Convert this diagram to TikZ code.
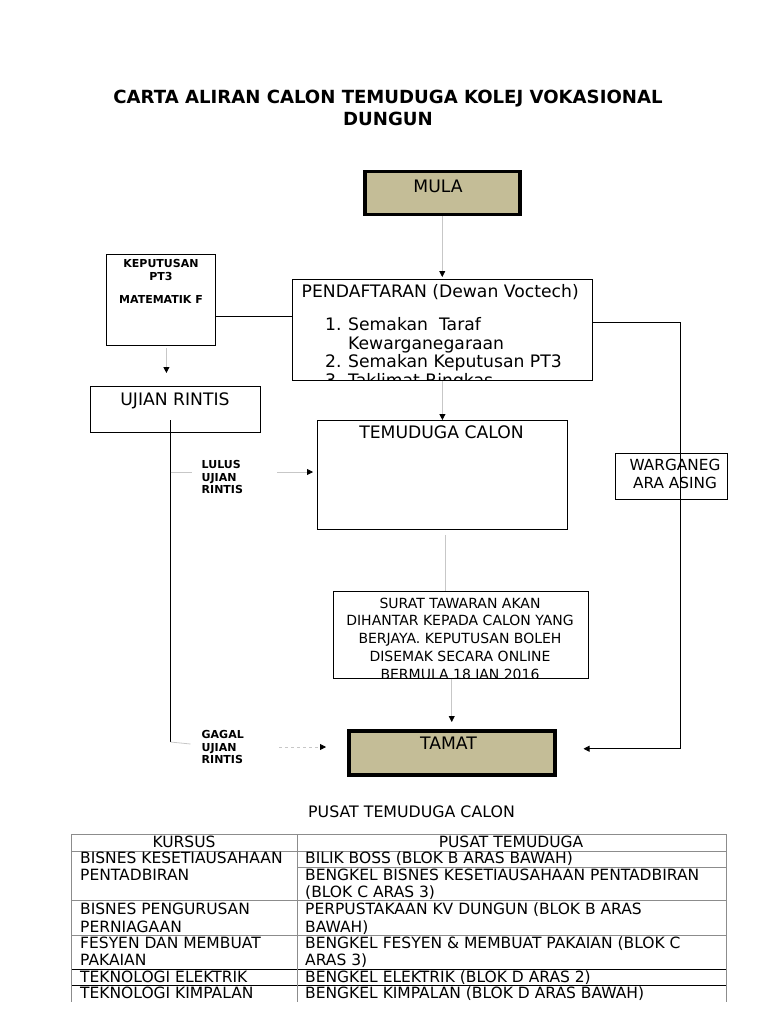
\documentclass[tikz,border=0pt]{standalone}
\usepackage{fontspec}
\setmainfont{DejaVu Sans}
\usetikzlibrary{arrows.meta}
\definecolor{tan}{RGB}{196,189,151}
\definecolor{lightgray}{rgb}{0.78,0.78,0.78}
\definecolor{tabgray}{rgb}{0.55,0.55,0.55}

\begin{document}
\begin{tikzpicture}[x=1pt, y=-1pt, inner sep=0pt,
	box/.style = {draw, anchor=north west, line width=0.8pt, fill=white},
	endbox/.style = {draw, anchor=north west, line width=3.5pt, fill=tan},
	boxtext/.style = {font=\fontsize{17.2}{19}\selectfont, text height=12.5pt, text depth=0pt},
	wargtext/.style = {font=\fontsize{15.3}{17}\selectfont, text height=11.2pt, text depth=0pt},
	surattext/.style = {font=\fontsize{14}{16}\selectfont, text height=10.2pt, text depth=0pt},
	small/.style = {font=\bfseries\fontsize{11}{12.8}\selectfont, align=left, anchor=north west},
	tabtext/.style = {font=\fontsize{15.5}{17}\selectfont, text height=11.3pt, text depth=0pt},
	link/.style = {draw=lightgray, line width=0.8pt, -{Triangle[black, length=6pt, width=6pt]}},
	line/.style = {draw, line width=0.8pt},
	tabline/.style = {draw=tabgray, line width=0.9pt}]
	\useasboundingbox (0,0) rectangle (768,1024);

	% title
	\node[font=\bfseries\fontsize{18.1}{22}\selectfont, align=center] (title) at (388,108) {CARTA ALIRAN CALON TEMUDUGA KOLEJ VOKASIONAL\\DUNGUN};

	% boxes
	\node[endbox, minimum width=155, minimum height=43] (mula) at (363,170) {};
	\node[boxtext] at (438,186) {MULA};

	\node[box, minimum width=109, minimum height=91] (kep) at (106,254) {};
	\node[small, align=center, anchor=north] at (161,259) {KEPUTUSAN\\PT3\\[11pt]MATEMATIK F};

	\node[box, minimum width=300, minimum height=101] (pend) at (292,279) {};
	\begin{scope}
		\clip (pend.north west) rectangle (pend.south east);
		\node[boxtext, anchor=west] at (301.5,291.5) {PENDAFTARAN (Dewan Voctech)};
		\node[boxtext, anchor=west] at (325,324) {1.};
		\node[boxtext, anchor=west] at (348,324) {Semakan\ \ Taraf};
		\node[boxtext, anchor=west] at (348,343) {Kewarganegaraan};
		\node[boxtext, anchor=west] at (325,361) {2.};
		\node[boxtext, anchor=west] at (348,361) {Semakan Keputusan PT3};
		\node[boxtext, anchor=west] at (325,380) {3.};
		\node[boxtext, anchor=west] at (348,380) {Taklimat Ringkas};
	\end{scope}

	\node[box, minimum width=170, minimum height=46] (ujian) at (90,386) {};
	\node[boxtext] at (175,399) {UJIAN RINTIS};

	\node[box, minimum width=250, minimum height=109] (temu) at (317,420) {};
	\node[boxtext] at (441.5,432) {TEMUDUGA CALON};

	\node[box, minimum width=112, minimum height=46] (warg) at (615,453) {};
	\node[wargtext] at (675,465) {WARGANEG};
	\node[wargtext] at (675,483) {ARA ASING};

	\node[box, minimum width=255, minimum height=87] (surat) at (333,591) {};
	\begin{scope}
		\clip (surat.north west) rectangle (surat.south east);
		\node[surattext] at (460,603) {SURAT TAWARAN AKAN};
		\node[surattext] at (460,620) {DIHANTAR KEPADA CALON YANG};
		\node[surattext] at (460,638) {BERJAYA. KEPUTUSAN BOLEH};
		\node[surattext] at (460,656) {DISEMAK SECARA ONLINE};
		\node[surattext] at (460,674) {BERMULA 18 JAN 2016};
	\end{scope}

	\node[endbox, minimum width=206, minimum height=44] (tamat) at (347,729) {};
	\node[boxtext] at (448.5,743) {TAMAT};

	% labels on the left line
	\node[small] (lulus) at (201.5,460) {LULUS\\UJIAN\\RINTIS};
	\node[small] (gagal) at (201.5,730) {GAGAL\\UJIAN\\RINTIS};

	% connectors
	\draw[link, shorten >=2pt] (mula.south) -- (mula.south |- pend.north);
	\draw[line] (kep.east |- 0,316) -- (pend.west |- 0,316);
	\draw[link, shorten <=2pt, shorten >=13pt] ([xshift=5.5pt]kep.south) -- ([xshift=5.5pt]kep.south |- ujian.north);
	\draw[link] (pend.south) -- (pend.south |- temu.north);
	\draw[draw=lightgray, line width=0.8pt] ([xshift=3pt, yshift=-5pt]temu.south) -- ([xshift=3pt]temu.south |- surat.north);
	\draw[link, shorten >=7pt] (surat.south -| tamat.north) -- (tamat.north);

	\coordinate (rc) at (680,322);
	\draw[line, -{Triangle[length=6pt, width=6pt]}, shorten >=27pt] (pend.east |- rc) -- (rc) |- ([yshift=4pt]tamat.east);

	\coordinate (ul) at (170.5,420);
	\coordinate (ug) at (170.5,742);
	\coordinate (lu) at (170.5,472);
	\draw[line] (ul) -- (ug);
	\draw[draw=lightgray, line width=0.8pt] (ug) -- ++(20,2);
	\draw[draw=lightgray, line width=0.8pt] (lu) -- ++(21,0);
	\coordinate (la) at (277,472);
	\draw[link, shorten >=4pt] (la) -- (temu.west |- la);
	\coordinate (ga) at (279,747);
	\draw[link, dashed, shorten >=21pt] (ga) -- (tamat.west |- ga);

	% table
	\node[tabtext, font=\fontsize{15.8}{17}\selectfont] (tabtitle) at (411.5,812) {PUSAT TEMUDUGA CALON};
	\draw[tabline] (71,834) -- (726,834);
	\draw[tabline] (71,851) -- (726,851);
	\draw[tabline] (297,867) -- (726,867);
	\draw[tabline] (71,900) -- (726,900);
	\draw[tabline] (71,935) -- (726,935);
	\draw[tabline, draw=black] (71,969) -- (726,969);
	\draw[tabline, draw=black] (71,985) -- (726,985);
	\draw[tabline] (71,834) -- (71,1002);
	\draw[tabline] (297,834) -- (297,1002);
	\draw[tabline] (726,834) -- (726,1002);

	\node[tabtext] at (184,842) {KURSUS};
	\node[tabtext] at (511,842) {PUSAT TEMUDUGA};
	\node[tabtext, anchor=west] at (80,858) {BISNES KESETIAUSAHAAN};
	\node[tabtext, anchor=west] at (80,875) {PENTADBIRAN};
	\node[tabtext, anchor=west] at (305,858) {BILIK BOSS (BLOK B ARAS BAWAH)};
	\node[tabtext, anchor=west] at (305,875) {BENGKEL BISNES KESETIAUSAHAAN PENTADBIRAN};
	\node[tabtext, anchor=west] at (305,892) {(BLOK C ARAS 3)};
	\node[tabtext, anchor=west] at (80,909) {BISNES PENGURUSAN};
	\node[tabtext, anchor=west] at (80,927) {PERNIAGAAN};
	\node[tabtext, anchor=west] at (305,909) {PERPUSTAKAAN KV DUNGUN (BLOK B ARAS};
	\node[tabtext, anchor=west] at (305,927) {BAWAH)};
	\node[tabtext, anchor=west] at (80,943) {FESYEN DAN MEMBUAT};
	\node[tabtext, anchor=west] at (80,960) {PAKAIAN};
	\node[tabtext, anchor=west] at (305,943) {BENGKEL FESYEN \& MEMBUAT PAKAIAN (BLOK C};
	\node[tabtext, anchor=west] at (305,960) {ARAS 3)};
	\node[tabtext, anchor=west] at (80,977) {TEKNOLOGI ELEKTRIK};
	\node[tabtext, anchor=west] at (305,977) {BENGKEL ELEKTRIK (BLOK D ARAS 2)};
	\node[tabtext, anchor=west] at (80,993) {TEKNOLOGI KIMPALAN};
	\node[tabtext, anchor=west] at (305,993) {BENGKEL KIMPALAN (BLOK D ARAS BAWAH)};
\end{tikzpicture}
\end{document}
